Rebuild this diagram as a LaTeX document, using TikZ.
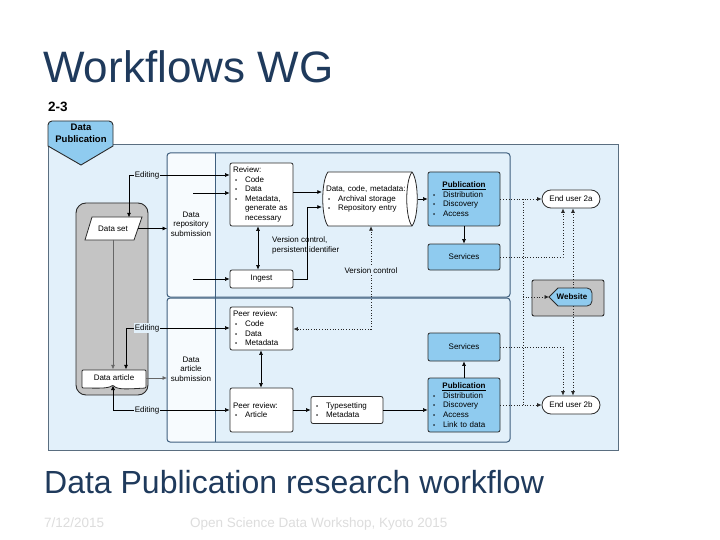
\documentclass[tikz,border=0pt]{standalone}
\usepackage{fontspec}
\setmainfont{Liberation Sans}
\usetikzlibrary{arrows.meta,calc}
\definecolor{panelbg}{HTML}{E2F0FA}
\definecolor{coledge}{HTML}{F7FBFE}
\definecolor{outedge}{HTML}{5A6E80}
\definecolor{inedge}{HTML}{3F5F7E}
\definecolor{pubblue}{HTML}{8FCBEF}
\definecolor{graybox}{HTML}{C4C4C4}
\definecolor{edgec}{HTML}{2B2B2B}
\definecolor{titlec}{HTML}{1F3A5C}
\definecolor{footc}{HTML}{DDDDDD}
\newcommand\dsz{\fontsize{8}{9.6}\selectfont}
\newcommand\bu{\hspace*{2pt}\makebox[10pt][l]{\fontsize{6}{6}\selectfont\textbullet}}
\newcommand\bc{\hspace*{12pt}}
\tikzset{
  wbox/.style={draw=edgec, fill=white, line width=0.8pt, rounded corners=2pt, font=\dsz, inner sep=3pt, align=left},
  bbox/.style={wbox, fill=pubblue},
  lbl/.style={font=\dsz, inner sep=1pt, fill=panelbg},
  arr/.style={draw=black, line width=0.6pt, -{Latex[length=4.5pt,width=4pt]}},
  barr/.style={draw=black, line width=0.6pt, {Latex[length=4.5pt,width=4pt]}-{Latex[length=4.5pt,width=4pt]}},
  dotline/.style={draw=black!85, line width=0.7pt, dotted},
  darr/.style={dotline, -{Latex[length=4.5pt,width=4pt]}},
  dbarr/.style={dotline, {Latex[length=4.5pt,width=4pt]}-{Latex[length=4.5pt,width=4pt]}},
}
\begin{document}
\begin{tikzpicture}[x=1pt,y=-1pt]
\fill[white] (0,0) rectangle (720,540);
\useasboundingbox (0,0) rectangle (720,540);

% titles
\node[anchor=base west, inner sep=0, text=titlec, font=\fontsize{44}{44}\selectfont] (title) at (43,83) {Workflows WG};
\node[anchor=base west, inner sep=0, text=titlec, font=\fontsize{32}{32}\selectfont] (subtitle) at (44,493) {Data Publication research workflow};
\node[anchor=base west, inner sep=0, text=footc, font=\fontsize{13.5}{13.5}\selectfont] (date) at (44,527) {7/12/2015};
\node[anchor=base west, inner sep=0, text=footc, font=\fontsize{13.5}{13.5}\selectfont] (foot) at (190,527) {Open Science Data Workshop, Kyoto 2015};
\node[anchor=base west, inner sep=0, font=\bfseries\fontsize{13.5}{13.5}\selectfont] (num) at (48,112) {2-3};

% outer panel and tag
\filldraw[fill=panelbg, draw=outedge, line width=1pt] (48,145) rectangle (618,450);
\filldraw[fill=pubblue, draw=edgec, line width=0.9pt] (48,146) [rounded corners=4pt] -- (48,121) -- (113,121) [sharp corners] -- (113,146) -- (81,165) -- cycle;
\node[align=center, font=\bfseries\fontsize{9.5}{11.5}\selectfont] (tag) at (81,133.5) {Data\\Publication};

% gray container
\filldraw[fill=graybox, draw=edgec, line width=0.9pt, rounded corners=10pt] (76,203) rectangle (148,395);

% inner panels
\foreach \ya/\yb in {153/297, 298/442}{
  \fill[panelbg, rounded corners=3pt] (167,\ya) rectangle (510,\yb);
  \fill[coledge, rounded corners=3pt] (215,\ya) -- (167,\ya) -- (167,\yb) -- (215,\yb) -- cycle;
  \draw[inedge, line width=1pt, rounded corners=3pt] (167,\ya) rectangle (510,\yb);
}
\draw[inedge, line width=1pt] (215,153) -- (215,442);
\node[font=\dsz, align=center] (col1) at (191,224) {Data\\repository\\submission};
\node[font=\dsz, align=center] (col2) at (191,369) {Data\\article\\submission};

% data set (parallelogram)
\filldraw[fill=white, draw=edgec, line width=0.8pt] (92,217) -- (142,217) -- (134,240) -- (85,240) -- cycle;
\node[font=\dsz, minimum width=50pt, minimum height=22pt, inner sep=0] (dataset) at (113,228.5) {Data set};

% data article (document)
\filldraw[fill=white, draw=edgec, line width=0.8pt, rounded corners=1pt] (82,370) -- (146,370) -- (146,388) .. controls (128,389) and (117,390) .. (113,385) .. controls (108,389) and (96,388) .. (82,388) -- cycle;
\node[font=\dsz, minimum width=64pt, minimum height=16pt, inner sep=0] (dataarticle) at (114,377.5) {Data article};
\coordinate (dab) at (113,385.5);

% cylinder
\filldraw[fill=white, draw=edgec, line width=0.8pt] (328,172) -- (412,172) .. controls (419,181) and (419,217) .. (412,226) -- (328,226) .. controls (321,217) and (321,181) .. (328,172) -- cycle;
\draw[edgec, line width=0.8pt] (412,172) .. controls (405,181) and (405,217) .. (412,226);
\node[font=\dsz, align=left, minimum width=96pt, minimum height=54pt, text width=88pt, inner sep=3pt] (cyl) at (370,199) {Data, code, metadata:\\\bu Archival storage\\\bu Repository entry};

% boxes
\node[wbox, minimum width=63pt, minimum height=63pt, text width=57pt] (review) at (261.5,194.5) {Review:\\\bu Code\\\bu Data\\\bu Metadata,\\\bc generate as\\\bc necessary};
\node[wbox, minimum width=63pt, minimum height=18pt, align=center] (ingest) at (261.5,279) {Ingest};
\node[bbox, minimum width=72pt, minimum height=54pt, text width=66pt] (pub1) at (464,199) {\makebox[66pt][c]{\underline{\textbf{Publication}}}\\\bu Distribution\\\bu Discovery\\\bu Access};
\node[bbox, minimum width=72pt, minimum height=26pt, align=center] (serv1) at (464,257) {Services};
\node[wbox, minimum width=63pt, minimum height=43pt, text width=57pt] (peer1) at (261.5,328.5) {Peer review:\\\bu Code\\\bu Data\\\bu Metadata};
\node[wbox, minimum width=63pt, minimum height=44pt, text width=57pt] (peer2) at (261.5,410) {Peer review:\\\bu Article};
\node[wbox, minimum width=72pt, minimum height=27pt, text width=66pt] (typeset) at (347,410) {\bu Typesetting\\\bu Metadata};
\node[bbox, minimum width=72pt, minimum height=28pt, align=center] (serv2) at (464,347) {Services};
\node[bbox, minimum width=72pt, minimum height=54pt, text width=66pt] (pub2) at (464,405) {\makebox[66pt][c]{\underline{\textbf{Publication}}}\\\bu Distribution\\\bu Discovery\\\bu Access\\\bu Link to data};

% end users and website
\node[wbox, rounded corners=9pt, minimum width=58pt, minimum height=18pt, align=center] (eu2a) at (571,199) {End user 2a};
\node[wbox, rounded corners=9pt, minimum width=58pt, minimum height=18pt, align=center] (eu2b) at (571,405) {End user 2b};
\filldraw[fill=graybox, draw=edgec, line width=0.9pt, rounded corners=2pt] (532,280) rectangle (604,316);
\filldraw[fill=pubblue, draw=edgec, line width=0.8pt] (558,306) -- (549,297) -- (558,288) [rounded corners=5pt] -- (592,288) -- (592,306) [sharp corners] -- cycle;
\node[font=\bfseries\dsz, minimum width=40pt, minimum height=18pt, inner sep=0] (website) at (572,297) {Website};
\coordinate (wtip) at (549,297);

% left connectors
\coordinate (e1) at (129,175);
\draw[barr] (review.west |- e1) -- (e1) -- (e1 |- dataset.north);
\node[lbl] (ed1) at (147,175) {Editing};
\coordinate (c1) at (167,228.5);
\draw[arr] (dataset.east) -- (c1);
\draw[arr, draw=black!60] (dataset.south) -- (dataarticle.north -| dataset.south);
\coordinate (c2) at (167,378);
\draw[arr, draw=black!60] (dataarticle.east |- c2) -- (c2);
\coordinate (e2) at (126,328);
\draw[barr] (peer1.west |- e2) -- (e2) -- (e2 |- dataarticle.north);
\node[lbl] (ed2) at (147,328) {Editing};
\coordinate (e3) at (113,410);
\draw[barr] (peer2.west |- e3) -- (e3) -- (dab);
\node[lbl] (ed3) at (147,410) {Editing};
\coordinate (s1) at (193,193);
\draw[arr] (s1) -- (s1 -| review.west);
\coordinate (s2) at (193,279);
\draw[arr] (s2) -- (ingest.west);

% middle connectors
\coordinate (ri) at (258,0);
\draw[barr] (review.south -| ri) -- (ingest.north -| ri);
\coordinate (r1) at (293,192);
\draw[arr] (review.east |- r1) -- (r1 -| cyl.west);
\coordinate (v1) at (307,207);
\draw[arr] (ingest.east) -| (v1) -- (v1 -| cyl.west);
\node[font=\dsz, anchor=west, align=left, inner sep=1pt] (vclbl) at (271,245.5) {Version control,\\persistent identifier};
\coordinate (vc) at (371,329);
\draw[dbarr] (peer1.east |- vc) -- (vc) -- (vc |- cyl.south);
\node[lbl] (vc2) at (371,271) {Version control};
\coordinate (pp) at (261,0);
\draw[barr] (peer1.south -| pp) -- (peer2.north -| pp);
\draw[arr] (peer2.east) -- (typeset.west);
\draw[arr] (typeset.east) -- (typeset.east -| pub2.west);
\draw[arr] (cyl.east) -- (pub1.west);
\draw[arr] (pub1.south) -- (serv1.north);
\draw[arr] (pub2.north) -- (serv2.south);

% right dotted connectors
\coordinate (vx) at (523,0);
\coordinate (x1) at (563,0);
\coordinate (x2) at (573,0);
\draw[darr] (pub1.east) -- (eu2a.west);
\draw[dotline] (pub1.east -| vx) -- (pub2.east -| vx);
\draw[darr] (vx |- wtip) -- (wtip);
\draw[darr] (pub2.east) -- (eu2b.west);
\draw[darr] (serv1.east) -| (eu2a.south -| x1);
\draw[darr] (serv2.east) -| (eu2b.north -| x1);
\draw[darr] (website.north -| x2) -- (eu2a.south -| x2);
\draw[darr] (website.south -| x2) -- (eu2b.north -| x2);
\end{tikzpicture}
\end{document}
